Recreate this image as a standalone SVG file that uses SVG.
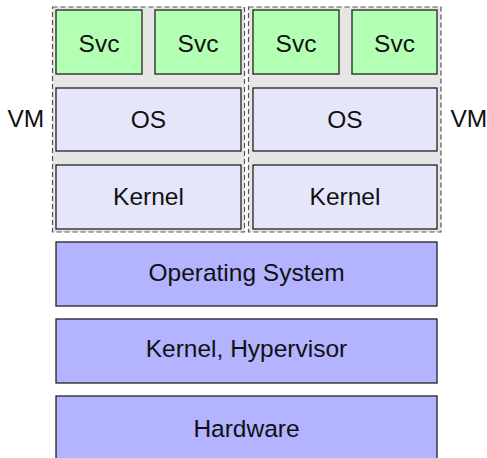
<svg xmlns="http://www.w3.org/2000/svg" width="487" height="458" viewBox="0 0 487 458">
<style>
.vm{fill:#e6e6e6;stroke:#555;stroke-width:1.2;stroke-dasharray:5,3}
.box{stroke:#222;stroke-width:1.3}
.svc{fill:#b3ffb3}
.os{fill:#e6e6fb}
.host{fill:#b3b3ff}
text{font-family:"Liberation Sans",Arial,sans-serif;font-size:24.5px;fill:#111;text-anchor:middle}
.lbl{text-anchor:start}
</style>
<g id="vm1">
<rect class="vm" x="52.5" y="7" width="192" height="225"/>
</g>
<g id="vm2">
<rect class="vm" x="248.5" y="7" width="192.5" height="225"/>
</g>
<g id="vm1-svc1"><rect class="box svc" x="56" y="10" width="86" height="64"/><text x="99" y="51.5">Svc</text></g>
<g id="vm1-svc2"><rect class="box svc" x="155" y="10" width="86" height="64"/><text x="198" y="51.5">Svc</text></g>
<g id="vm2-svc1"><rect class="box svc" x="253" y="10" width="86" height="64"/><text x="296" y="51.5">Svc</text></g>
<g id="vm2-svc2"><rect class="box svc" x="352" y="10" width="85" height="64"/><text x="394.5" y="51.5">Svc</text></g>
<g id="vm1-os"><rect class="box os" x="56" y="88" width="185" height="63"/><text x="148.5" y="128">OS</text></g>
<g id="vm2-os"><rect class="box os" x="253" y="88" width="184" height="63"/><text x="345" y="128">OS</text></g>
<g id="vm1-kernel"><rect class="box os" x="56" y="165" width="185" height="64"/><text x="148.5" y="205">Kernel</text></g>
<g id="vm2-kernel"><rect class="box os" x="253" y="165" width="184" height="64"/><text x="345" y="205">Kernel</text></g>
<g id="host-os"><rect class="box host" x="56" y="242" width="381" height="64"/><text x="246.5" y="281">Operating System</text></g>
<g id="host-kernel"><rect class="box host" x="56" y="319" width="381" height="64"/><text x="246.5" y="357">Kernel, Hypervisor</text></g>
<g id="hardware"><rect class="box host" x="56" y="396" width="381" height="66"/><text x="246.5" y="437">Hardware</text></g>
<g id="vm-label-left"><text class="lbl" x="7.5" y="127">VM</text></g>
<g id="vm-label-right"><text class="lbl" x="450.5" y="127">VM</text></g>
<g id="connectors"></g>
</svg>
